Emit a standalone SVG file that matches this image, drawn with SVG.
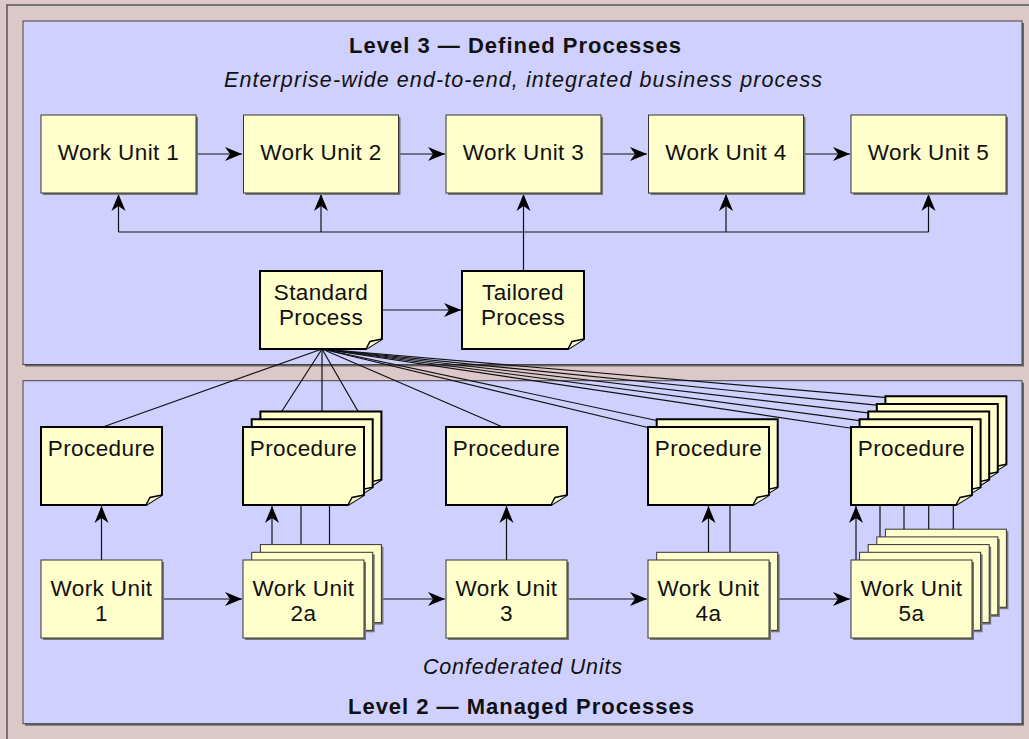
<svg xmlns="http://www.w3.org/2000/svg" width="1029" height="739" viewBox="0 0 1029 739">
<style>
.t{font-family:"Liberation Sans",Arial,sans-serif;font-size:22.5px;letter-spacing:0.4px;fill:#111;text-anchor:middle}
.ti{font-family:"Liberation Sans",Arial,sans-serif;font-size:21.5px;font-style:italic;fill:#111}
.tb{font-family:"Liberation Sans",Arial,sans-serif;font-size:22px;font-weight:bold;fill:#111}
.wu{fill:#FFFFCC;stroke:#333;stroke-width:1}
.sh{fill:#777}
.note{fill:#FFFFCC;stroke:#000;stroke-width:2;stroke-linejoin:miter}
.flap{fill:#FFFFCC;stroke:#000;stroke-width:1.5}
.c{stroke:#111;stroke-width:1.2;fill:none}
.a{stroke:#111;stroke-width:1.2;fill:none;marker-end:url(#ah)}
</style>
<defs>
<marker id="ah" markerWidth="18" markerHeight="16" refX="17" refY="8" orient="auto" markerUnits="userSpaceOnUse"><path d="M0,1 L17,8 L0,15 L5,8 Z" fill="#000"/></marker>
<g id="n-proc"><path class="note" d="M0,0 H121 V68 L105,78 H0 Z"/><path class="flap" d="M105,78 L109,70.5 L121,68"/></g>
<g id="n-wu"><rect class="sh" x="2" y="2" width="121" height="78"/><rect class="wu" x="0" y="0" width="121" height="78"/></g>
</defs>
<rect x="0" y="0" width="1029" height="739" fill="#DCC8C8"/>
<rect x="7" y="5" width="1040" height="760" fill="#DCC8C8" stroke="#555" stroke-width="1.5"/>
<g id="panel-level3">
<rect x="25" y="23" width="999" height="343.5" fill="#666"/>
<rect x="23" y="21" width="999" height="343.5" fill="#D0D0FF" stroke="#444" stroke-width="1"/>
<text class="tb" x="349" y="53" textLength="332" lengthAdjust="spacing">Level 3 — Defined Processes</text>
<text class="ti" x="224" y="87" textLength="598" lengthAdjust="spacing">Enterprise-wide end-to-end, integrated business process</text>
</g>
<g id="panel-level2">
<rect x="25" y="382.7" width="999" height="343" fill="#666"/>
<rect x="23" y="380.7" width="999" height="343" fill="#D0D0FF" stroke="#444" stroke-width="1"/>
<text class="ti" x="423" y="674" textLength="199" lengthAdjust="spacing">Confederated Units</text>
<text class="tb" x="348" y="714" textLength="346" lengthAdjust="spacing">Level 2 — Managed Processes</text>
</g>
<g id="connectors">
<line class="a" x1="198" y1="154" x2="242" y2="154"/>
<line class="a" x1="400" y1="154" x2="445" y2="154"/>
<line class="a" x1="602" y1="154" x2="647" y2="154"/>
<line class="a" x1="805" y1="154" x2="850" y2="154"/>
<path class="c" d="M118.5,232 H928.5"/>
<line class="a" x1="118.5" y1="232" x2="118.5" y2="194"/>
<line class="a" x1="321" y1="232" x2="321" y2="194"/>
<line class="a" x1="523.5" y1="271" x2="523.5" y2="194"/>
<line class="a" x1="726" y1="232" x2="726" y2="194"/>
<line class="a" x1="928.5" y1="232" x2="928.5" y2="194"/>
<line class="a" x1="383" y1="310" x2="461" y2="310"/>
<g id="fan">
<line class="c" x1="322" y1="349" x2="100" y2="428"/>
<line class="c" x1="322" y1="349" x2="271" y2="428"/>
<line class="c" x1="322" y1="349" x2="322" y2="420"/>
<line class="c" x1="322" y1="349" x2="359" y2="413"/>
<line class="c" x1="322" y1="349" x2="505" y2="428"/>
<line class="c" x1="322" y1="349" x2="650" y2="428"/>
<line class="c" x1="322" y1="349" x2="659" y2="421"/>
<line class="c" x1="322" y1="349" x2="853" y2="428.5"/>
<line class="c" x1="322" y1="349" x2="861.6" y2="420.8"/>
<line class="c" x1="322" y1="349" x2="870.2" y2="413.1"/>
<line class="c" x1="322" y1="349" x2="878.8" y2="405.4"/>
<line class="c" x1="322" y1="349" x2="887.4" y2="397.7"/>
</g>
<line class="a" x1="101.5" y1="560" x2="101.5" y2="506"/>
<line class="a" x1="272" y1="560" x2="272" y2="506"/>
<line class="c" x1="301" y1="505" x2="301" y2="552.3"/>
<line class="c" x1="329.5" y1="505" x2="329.5" y2="544.6"/>
<line class="a" x1="506.5" y1="560" x2="506.5" y2="506"/>
<line class="a" x1="708.5" y1="560" x2="708.5" y2="506"/>
<line class="c" x1="730" y1="505" x2="730" y2="552.3"/>
<line class="a" x1="856" y1="560" x2="856" y2="506"/>
<line class="c" x1="880" y1="505" x2="880" y2="552.3"/>
<line class="c" x1="904" y1="505" x2="904" y2="544.6"/>
<line class="c" x1="928.7" y1="505" x2="928.7" y2="536.9"/>
<line class="c" x1="953.3" y1="505" x2="953.3" y2="529.2"/>
<line class="a" x1="163" y1="599" x2="242" y2="599"/>
<line class="a" x1="383" y1="599" x2="445" y2="599"/>
<line class="a" x1="568" y1="599" x2="647" y2="599"/>
<line class="a" x1="779" y1="599" x2="850" y2="599"/>
</g>
<g id="wu3-1"><rect class="sh" x="43" y="117" width="155" height="78"/><rect class="wu" x="41" y="115" width="155" height="78"/><text class="t" x="118.5" y="160">Work Unit 1</text></g>
<g id="wu3-2"><rect class="sh" x="245.5" y="117" width="155" height="78"/><rect class="wu" x="243.5" y="115" width="155" height="78"/><text class="t" x="321" y="160">Work Unit 2</text></g>
<g id="wu3-3"><rect class="sh" x="448" y="117" width="155" height="78"/><rect class="wu" x="446" y="115" width="155" height="78"/><text class="t" x="523.5" y="160">Work Unit 3</text></g>
<g id="wu3-4"><rect class="sh" x="650.5" y="117" width="155" height="78"/><rect class="wu" x="648.5" y="115" width="155" height="78"/><text class="t" x="726" y="160">Work Unit 4</text></g>
<g id="wu3-5"><rect class="sh" x="853" y="117" width="155" height="78"/><rect class="wu" x="851" y="115" width="155" height="78"/><text class="t" x="928.5" y="160">Work Unit 5</text></g>
<g id="standard-process"><path class="note" d="M260,271 H382 V339 L366,349 H260 Z"/><path class="flap" d="M366,349 L370,341.5 L382,339"/><text class="t" x="321" y="300">Standard</text><text class="t" x="321" y="325">Process</text></g>
<g id="tailored-process"><path class="note" d="M462,271 H584 V339 L568,349 H462 Z"/><path class="flap" d="M568,349 L572,341.5 L584,339"/><text class="t" x="523" y="300">Tailored</text><text class="t" x="523" y="325">Process</text></g>
<g id="procedure-1"><use href="#n-proc" x="41" y="427"/><text class="t" x="101.5" y="456">Procedure</text></g>
<g id="procedure-2"><use href="#n-proc" x="260.4" y="411.6"/><use href="#n-proc" x="251.7" y="419.3"/><use href="#n-proc" x="243" y="427"/><text class="t" x="303.5" y="456">Procedure</text></g>
<g id="procedure-3"><use href="#n-proc" x="446" y="427"/><text class="t" x="506.5" y="456">Procedure</text></g>
<g id="procedure-4"><use href="#n-proc" x="656.7" y="419.3"/><use href="#n-proc" x="648" y="427"/><text class="t" x="708.5" y="456">Procedure</text></g>
<g id="procedure-5"><use href="#n-proc" x="885.4" y="396.2"/><use href="#n-proc" x="876.8" y="403.9"/><use href="#n-proc" x="868.2" y="411.6"/><use href="#n-proc" x="859.6" y="419.3"/><use href="#n-proc" x="851" y="427"/><text class="t" x="911.5" y="456">Procedure</text></g>
<g id="wu2-1"><use href="#n-wu" x="41" y="560"/><text class="t" x="101.5" y="596">Work Unit</text><text class="t" x="101.5" y="621">1</text></g>
<g id="wu2-2a"><use href="#n-wu" x="260.4" y="544.6"/><use href="#n-wu" x="251.7" y="552.3"/><use href="#n-wu" x="243" y="560"/><text class="t" x="303.5" y="596">Work Unit</text><text class="t" x="303.5" y="621">2a</text></g>
<g id="wu2-3"><use href="#n-wu" x="446" y="560"/><text class="t" x="506.5" y="596">Work Unit</text><text class="t" x="506.5" y="621">3</text></g>
<g id="wu2-4a"><use href="#n-wu" x="656.7" y="552.3"/><use href="#n-wu" x="648" y="560"/><text class="t" x="708.5" y="596">Work Unit</text><text class="t" x="708.5" y="621">4a</text></g>
<g id="wu2-5a"><use href="#n-wu" x="885.4" y="529.2"/><use href="#n-wu" x="876.8" y="536.9"/><use href="#n-wu" x="868.2" y="544.6"/><use href="#n-wu" x="859.6" y="552.3"/><use href="#n-wu" x="851" y="560"/><text class="t" x="911.5" y="596">Work Unit</text><text class="t" x="911.5" y="621">5a</text></g>
</svg>
